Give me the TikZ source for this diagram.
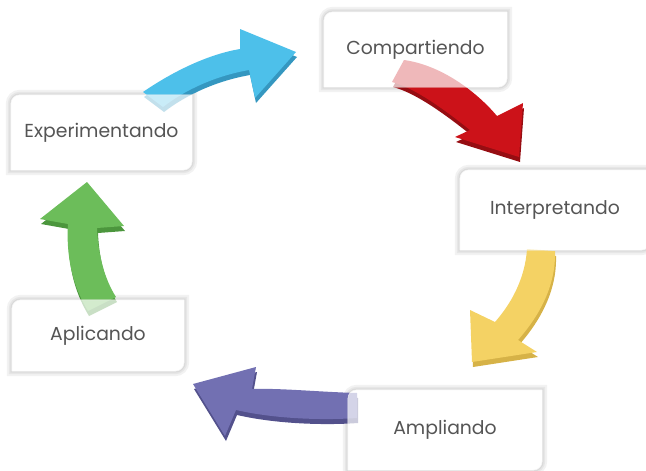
\documentclass[tikz,border=0pt]{standalone}
\usepackage{fontspec}
\setmainfont{Poppins}
\usepackage{tikz}
\usetikzlibrary{positioning}
\definecolor{texto}{HTML}{555555}
\definecolor{azul}{HTML}{4DC0EA}
\definecolor{azulosc}{HTML}{3597C0}
\definecolor{rojo}{HTML}{CC1219}
\definecolor{rojoosc}{HTML}{960D12}
\definecolor{amarillo}{HTML}{F4D264}
\definecolor{amarillooosc}{HTML}{D6B247}
\definecolor{morado}{HTML}{7270B2}
\definecolor{moradoosc}{HTML}{53518C}
\definecolor{verde}{HTML}{6CBD5A}
\definecolor{verdeosc}{HTML}{4C963D}
\pgfdeclarelayer{sombra}
\pgfdeclarelayer{fondo}
\pgfdeclarelayer{flechas}
\pgfdeclarelayer{velo}
\pgfsetlayers{sombra,fondo,flechas,velo,main}
\newcommand{\cajapath}[1]{(#1.south west) [rounded corners=9pt] -- (#1.north west) [sharp corners] -- (#1.north east) [rounded corners=9pt] -- (#1.south east) [sharp corners] -- cycle}
\newcommand{\caja}[1]{%
  \begin{pgfonlayer}{sombra}
    \foreach \w in {10,6,3}
      \draw[black, opacity=0.05, line width=\w pt, xshift=1.5pt, yshift=-2pt] \cajapath{#1};
  \end{pgfonlayer}
  \begin{pgfonlayer}{fondo}
    \fill[white] \cajapath{#1};
  \end{pgfonlayer}
  \begin{pgfonlayer}{velo}
    \fill[white, opacity=0.7] \cajapath{#1};
    \draw[black!5, line width=0.4pt] \cajapath{#1};
  \end{pgfonlayer}}
\newcommand{\flecha}[3]{%
  \begin{pgfonlayer}{flechas}
    \fill[#2, xshift=1pt, yshift=-5pt] #3;
    \fill[#1] #3;
  \end{pgfonlayer}}

\begin{document}
\begin{tikzpicture}[x=1pt, y=-1pt]
  \tikzset{
    paso/.style={rectangle, inner sep=0pt, text=texto, font=\fontsize{18.8}{21}\selectfont},
  }
  \useasboundingbox (0,0) rectangle (646,471);

  \node[paso, minimum width=181pt, minimum height=75pt] (exp) at (101.5,132.5) {Experimentando};
  \node[paso, minimum width=183pt, minimum height=75pt] (comp) at (415.5,49.5) {Compartiendo};
  \node[paso, minimum width=190pt, minimum height=80pt] (interp) at (555,210) {Interpretando};
  \node[paso, minimum width=172pt, minimum height=71pt] (apli) at (98,335.5) {Aplicando\hspace{16pt}};
  \node[paso, minimum width=194pt, minimum height=80pt] (ampl) at (445,430) {Ampliando\hspace{12pt}};

  \caja{exp}
  \caja{comp}
  \caja{interp}
  \caja{apli}
  \caja{ampl}

  \flecha{azul}{azulosc}{(143,92) .. controls (175,70) and (210,54) .. (240,49) -- (240,29) -- (296,52)
    -- (255,98) -- (249,70) .. controls (215,76) and (185,90) .. (163,107) -- cycle}
  \flecha{rojo}{rojoosc}{(404,60) .. controls (440,65) and (475,90) .. (497,116) -- (523,103) -- (519,157)
    -- (455,137) -- (470,130) .. controls (445,110) and (415,88) .. (392,82) -- cycle}
  \flecha{amarillo}{amarillooosc}{(527,249) .. controls (525,280) and (510,305) .. (495,322) -- (470,310) -- (472,362)
    -- (537,352) -- (518,340) .. controls (540,315) and (556,285) .. (555,251) -- cycle}
  \flecha{morado}{moradoosc}{(357,393) .. controls (320,392) and (280,388) .. (252,389) -- (256,367) -- (193,384)
    -- (225,436) -- (236,410) .. controls (280,420) and (330,420) .. (357,418) -- cycle}
  \flecha{verde}{verdeosc}{(88,311) .. controls (72,285) and (66,255) .. (68,224) -- (40,219) -- (87,182)
    -- (124,226) -- (97,228) .. controls (98,255) and (105,280) .. (116,297) -- cycle}
\end{tikzpicture}
\end{document}
